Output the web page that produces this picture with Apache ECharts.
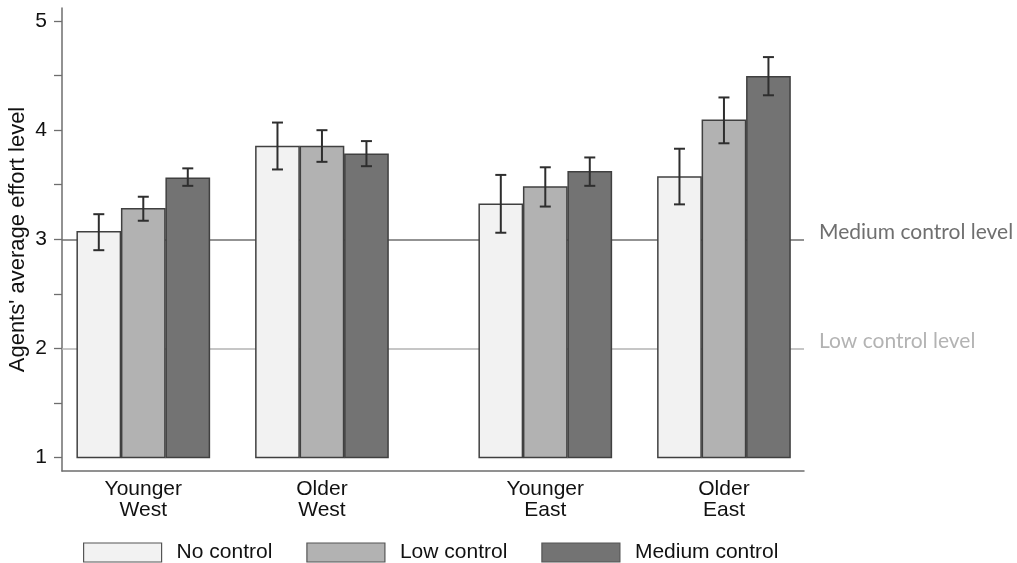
<!DOCTYPE html>
<html>
<head>
<meta charset="utf-8">
<style>
  html, body { margin: 0; padding: 0; background: #ffffff; }
  #chart { width: 1017px; height: 563px; }
</style>
<script src="https://cdn.jsdelivr.net/npm/echarts@6/dist/echarts.min.js"></script>
</head>
<body>
<div id="chart"></div>
<script>
// Group positions on the horizontal value axis (West and East blocks separated by a wider gap)
const positions = [1, 2, 3.25, 4.25];
const groupLabels = ['Younger\nWest', 'Older\nWest', 'Younger\nEast', 'Older\nEast'];

// Mean effort and 95% interval bounds per condition
const noControl   = [3.07, 3.85, 3.32, 3.57];
const noControlLo = [2.90, 3.64, 3.06, 3.32];
const noControlHi = [3.23, 4.07, 3.59, 3.83];

const lowControl   = [3.28, 3.85, 3.48, 4.09];
const lowControlLo = [3.17, 3.71, 3.30, 3.88];
const lowControlHi = [3.39, 4.00, 3.66, 4.30];

const medControl   = [3.56, 3.78, 3.62, 4.49];
const medControlLo = [3.49, 3.67, 3.49, 4.32];
const medControlHi = [3.65, 3.90, 3.75, 4.67];

// Reference levels shown as horizontal lines
const refLevels = [3, 2];
const refNames  = ['Medium control level', 'Low control level'];

const yTicks  = [1, 1.5, 2, 2.5, 3, 3.5, 4, 4.5, 5];
const yLabels = [1, 2, 3, 4, 5];

const BAR_W = 0.242;   // bar width in axis units
const STEP  = 0.249;   // spacing between bars inside a group
const BASE  = 1;       // bars rise from the value 1

const conditions = [
  { name: 'No control',     mean: noControl,  lo: noControlLo,  hi: noControlHi,  fill: '#f2f2f2', offset: -STEP },
  { name: 'Low control',    mean: lowControl, lo: lowControlLo, hi: lowControlHi, fill: '#b2b2b2', offset: 0 },
  { name: 'Medium control', mean: medControl, lo: medControlLo, hi: medControlHi, fill: '#737373', offset: STEP }
];

const BAR_STROKE = '#404040';
const ERR_COLOR = '#2e2e2e';
const FONT = 'Liberation Sans, Arial, sans-serif';

function makeBarSeries(c) {
  return {
    type: 'custom',
    name: c.name,
    z: 3,
    itemStyle: { color: c.fill, borderColor: BAR_STROKE, borderWidth: 1.5 },
    data: positions.map((p, i) => [p, c.mean[i], c.lo[i], c.hi[i]]),
    encode: { x: 0, y: [1, 2, 3] },
    renderItem: function (params, api) {
      const x = api.value(0) + c.offset;
      const top = api.coord([x, api.value(1)]);
      const bottom = api.coord([x, BASE]);
      const w = api.size([BAR_W, 0])[0];
      const lo = api.coord([x, api.value(2)]);
      const hi = api.coord([x, api.value(3)]);
      const cap = 5.5;
      const errStyle = { stroke: ERR_COLOR, lineWidth: 2 };
      return {
        type: 'group',
        children: [
          {
            type: 'rect',
            shape: { x: top[0] - w / 2, y: top[1], width: w, height: bottom[1] - top[1] },
            style: { fill: c.fill, stroke: BAR_STROKE, lineWidth: 1.5 }
          },
          { type: 'line', shape: { x1: hi[0], y1: hi[1], x2: lo[0], y2: lo[1] }, style: errStyle },
          { type: 'line', shape: { x1: hi[0] - cap, y1: hi[1], x2: hi[0] + cap, y2: hi[1] }, style: errStyle },
          { type: 'line', shape: { x1: lo[0] - cap, y1: lo[1], x2: lo[0] + cap, y2: lo[1] }, style: errStyle }
        ]
      };
    }
  };
}

const refColors = ['#6f6f6f', '#b3b3b3'];

const refSeries = {
  type: 'line',
  name: 'levels',
  data: [],
  silent: true,
  z: 1,
  markLine: {
    silent: true,
    z: 1,
    symbol: ['none', 'none'],
    animation: false,
    data: refLevels.map((v, i) => ({
      yAxis: v,
      lineStyle: { color: refColors[i], width: 1.5, type: 'solid' },
      label: {
        show: true,
        position: 'end',
        distance: 15,
        formatter: refNames[i],
        color: refColors[i],
        fontFamily: 'Lato',
        fontSize: 21,
        offset: [0, -7]
      }
    }))
  }
};

const chart = echarts.init(document.getElementById('chart'), null, { renderer: 'canvas' });

chart.setOption({
  animation: false,
  backgroundColor: '#ffffff',
  textStyle: { fontFamily: FONT },
  grid: { left: 62, right: 213, top: 8, bottom: 92, containLabel: false, outerBoundsMode: 'none' },
  xAxis: {
    type: 'value',
    min: 0.545,
    max: 4.698,
    axisLine: { show: true, onZero: false, lineStyle: { color: '#6e6e6e', width: 1.5 } },
    axisTick: { show: false },
    splitLine: { show: false },
    axisLabel: {
      customValues: positions,
      formatter: v => groupLabels[positions.indexOf(v)] || '',
      fontSize: 21,
      lineHeight: 21,
      color: '#111111',
      margin: 8,
      align: 'center'
    }
  },
  yAxis: {
    type: 'value',
    min: 0.876,
    max: 5.12,
    name: "Agents' average effort level",
    nameLocation: 'middle',
    nameGap: 33,
    nameMoveOverlap: false,
    nameRotate: 90,
    nameTextStyle: { fontSize: 22, color: '#111111', fontFamily: FONT },
    axisLine: { show: true, onZero: false, lineStyle: { color: '#6e6e6e', width: 1.5 } },
    axisTick: { show: true, customValues: yTicks, length: 8, lineStyle: { color: '#6e6e6e', width: 1.3 } },
    splitLine: { show: false },
    axisLabel: {
      customValues: yLabels,
      fontSize: 21,
      color: '#111111',
      margin: 15
    }
  },
  legend: {
    left: 83,
    top: 542,
    padding: 0,
    itemWidth: 78,
    itemHeight: 19,
    itemGap: 34,
    selectedMode: false,
    textStyle: { fontSize: 21, color: '#111111', padding: [0, 0, 0, 10] },
    data: conditions.map(c => ({
      name: c.name,
      icon: 'rect',
      itemStyle: { color: c.fill, borderColor: '#555555', borderWidth: 1.2 }
    }))
  },
  series: [refSeries].concat(conditions.map(makeBarSeries))
});
</script>
</body>
</html>
